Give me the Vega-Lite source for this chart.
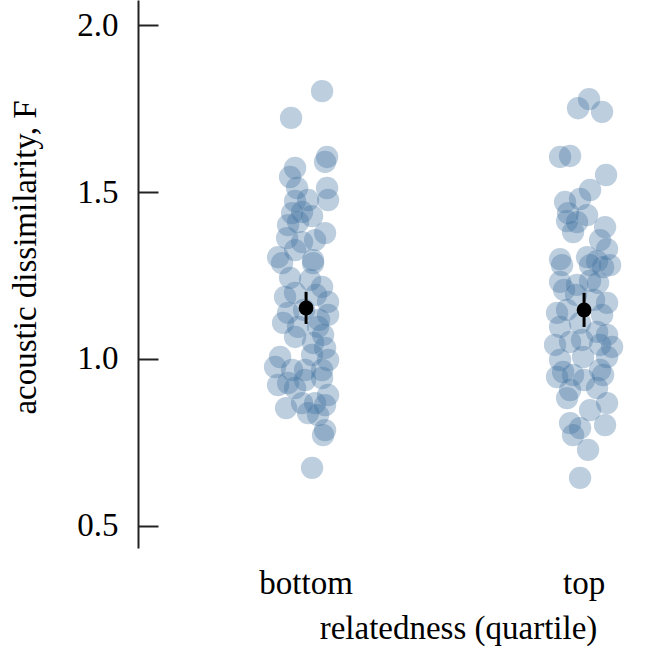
{
  "$schema": "https://vega.github.io/schema/vega-lite/v6.json",
  "width": 505,
  "height": 548,
  "autosize": {"type": "none"},
  "padding": {"left": 138, "right": 14, "top": 0, "bottom": 104},
  "config": {
    "font": "Liberation Serif",
    "view": {"stroke": null},
    "axis": {"grid": false, "labelColor": "#000", "titleColor": "#000", "titleFontWeight": "normal"}
  },
  "datasets": {
    "pts": [
      {"group": "bottom", "jitter": 16, "F": 1.802},
      {"group": "bottom", "jitter": -15, "F": 1.722},
      {"group": "bottom", "jitter": 21, "F": 1.605},
      {"group": "bottom", "jitter": 19, "F": 1.590},
      {"group": "bottom", "jitter": -11, "F": 1.572},
      {"group": "bottom", "jitter": -16, "F": 1.545},
      {"group": "bottom", "jitter": -9, "F": 1.512},
      {"group": "bottom", "jitter": 21, "F": 1.512},
      {"group": "bottom", "jitter": 22, "F": 1.476},
      {"group": "bottom", "jitter": 2, "F": 1.476},
      {"group": "bottom", "jitter": -11, "F": 1.473},
      {"group": "bottom", "jitter": -4, "F": 1.440},
      {"group": "bottom", "jitter": 6, "F": 1.428},
      {"group": "bottom", "jitter": -14, "F": 1.437},
      {"group": "bottom", "jitter": -18, "F": 1.401},
      {"group": "bottom", "jitter": -8, "F": 1.410},
      {"group": "bottom", "jitter": 19, "F": 1.377},
      {"group": "bottom", "jitter": -19, "F": 1.362},
      {"group": "bottom", "jitter": -4, "F": 1.350},
      {"group": "bottom", "jitter": 9, "F": 1.356},
      {"group": "bottom", "jitter": -11, "F": 1.326},
      {"group": "bottom", "jitter": -28, "F": 1.305},
      {"group": "bottom", "jitter": 7, "F": 1.296},
      {"group": "bottom", "jitter": -24, "F": 1.287},
      {"group": "bottom", "jitter": 7, "F": 1.287},
      {"group": "bottom", "jitter": -16, "F": 1.243},
      {"group": "bottom", "jitter": 4, "F": 1.237},
      {"group": "bottom", "jitter": 16, "F": 1.216},
      {"group": "bottom", "jitter": -21, "F": 1.186},
      {"group": "bottom", "jitter": -11, "F": 1.198},
      {"group": "bottom", "jitter": 22, "F": 1.171},
      {"group": "bottom", "jitter": -18, "F": 1.138},
      {"group": "bottom", "jitter": 22, "F": 1.132},
      {"group": "bottom", "jitter": -23, "F": 1.108},
      {"group": "bottom", "jitter": -8, "F": 1.096},
      {"group": "bottom", "jitter": 12, "F": 1.096},
      {"group": "bottom", "jitter": 17, "F": 1.072},
      {"group": "bottom", "jitter": 7, "F": 1.048},
      {"group": "bottom", "jitter": -11, "F": 1.066},
      {"group": "bottom", "jitter": 19, "F": 1.033},
      {"group": "bottom", "jitter": 6, "F": 1.012},
      {"group": "bottom", "jitter": -26, "F": 1.006},
      {"group": "bottom", "jitter": 22, "F": 0.997},
      {"group": "bottom", "jitter": -31, "F": 0.976},
      {"group": "bottom", "jitter": -14, "F": 0.967},
      {"group": "bottom", "jitter": -1, "F": 0.967},
      {"group": "bottom", "jitter": 16, "F": 0.967},
      {"group": "bottom", "jitter": -28, "F": 0.922},
      {"group": "bottom", "jitter": -18, "F": 0.928},
      {"group": "bottom", "jitter": -11, "F": 0.913},
      {"group": "bottom", "jitter": -1, "F": 0.937},
      {"group": "bottom", "jitter": 16, "F": 0.943},
      {"group": "bottom", "jitter": 22, "F": 0.892},
      {"group": "bottom", "jitter": -4, "F": 0.868},
      {"group": "bottom", "jitter": 9, "F": 0.868},
      {"group": "bottom", "jitter": 19, "F": 0.862},
      {"group": "bottom", "jitter": 2, "F": 0.838},
      {"group": "bottom", "jitter": 12, "F": 0.832},
      {"group": "bottom", "jitter": 19, "F": 0.787},
      {"group": "bottom", "jitter": 17, "F": 0.772},
      {"group": "bottom", "jitter": 6, "F": 0.674},
      {"group": "bottom", "jitter": 13, "F": 1.117},
      {"group": "bottom", "jitter": -2, "F": 1.147},
      {"group": "bottom", "jitter": 10, "F": 1.192},
      {"group": "bottom", "jitter": -20, "F": 0.853},
      {"group": "top", "jitter": 5, "F": 1.778},
      {"group": "top", "jitter": -6, "F": 1.751},
      {"group": "top", "jitter": 18, "F": 1.740},
      {"group": "top", "jitter": -24, "F": 1.605},
      {"group": "top", "jitter": -14, "F": 1.608},
      {"group": "top", "jitter": 22, "F": 1.551},
      {"group": "top", "jitter": 6, "F": 1.506},
      {"group": "top", "jitter": -19, "F": 1.470},
      {"group": "top", "jitter": -4, "F": 1.479},
      {"group": "top", "jitter": -16, "F": 1.437},
      {"group": "top", "jitter": 3, "F": 1.431},
      {"group": "top", "jitter": -17, "F": 1.413},
      {"group": "top", "jitter": -7, "F": 1.410},
      {"group": "top", "jitter": 21, "F": 1.395},
      {"group": "top", "jitter": -11, "F": 1.380},
      {"group": "top", "jitter": 16, "F": 1.356},
      {"group": "top", "jitter": 23, "F": 1.329},
      {"group": "top", "jitter": -24, "F": 1.299},
      {"group": "top", "jitter": 3, "F": 1.305},
      {"group": "top", "jitter": 13, "F": 1.293},
      {"group": "top", "jitter": 26, "F": 1.281},
      {"group": "top", "jitter": 6, "F": 1.281},
      {"group": "top", "jitter": -22, "F": 1.281},
      {"group": "top", "jitter": 19, "F": 1.275},
      {"group": "top", "jitter": -24, "F": 1.231},
      {"group": "top", "jitter": 6, "F": 1.234},
      {"group": "top", "jitter": -7, "F": 1.222},
      {"group": "top", "jitter": 14, "F": 1.228},
      {"group": "top", "jitter": 23, "F": 1.168},
      {"group": "top", "jitter": -27, "F": 1.138},
      {"group": "top", "jitter": -17, "F": 1.147},
      {"group": "top", "jitter": 18, "F": 1.132},
      {"group": "top", "jitter": -24, "F": 1.096},
      {"group": "top", "jitter": -4, "F": 1.108},
      {"group": "top", "jitter": 23, "F": 1.072},
      {"group": "top", "jitter": 13, "F": 1.081},
      {"group": "top", "jitter": -29, "F": 1.042},
      {"group": "top", "jitter": -14, "F": 1.051},
      {"group": "top", "jitter": 16, "F": 1.042},
      {"group": "top", "jitter": 28, "F": 1.036},
      {"group": "top", "jitter": -24, "F": 0.997},
      {"group": "top", "jitter": -1, "F": 1.006},
      {"group": "top", "jitter": 23, "F": 1.006},
      {"group": "top", "jitter": -21, "F": 0.961},
      {"group": "top", "jitter": 16, "F": 0.967},
      {"group": "top", "jitter": -27, "F": 0.946},
      {"group": "top", "jitter": -11, "F": 0.952},
      {"group": "top", "jitter": 19, "F": 0.952},
      {"group": "top", "jitter": -14, "F": 0.907},
      {"group": "top", "jitter": 13, "F": 0.913},
      {"group": "top", "jitter": -17, "F": 0.883},
      {"group": "top", "jitter": 23, "F": 0.868},
      {"group": "top", "jitter": 6, "F": 0.847},
      {"group": "top", "jitter": -14, "F": 0.808},
      {"group": "top", "jitter": -4, "F": 0.793},
      {"group": "top", "jitter": 21, "F": 0.802},
      {"group": "top", "jitter": -11, "F": 0.772},
      {"group": "top", "jitter": 4, "F": 0.728},
      {"group": "top", "jitter": -4, "F": 0.644},
      {"group": "top", "jitter": -8, "F": 1.192},
      {"group": "top", "jitter": 10, "F": 1.177},
      {"group": "top", "jitter": -2, "F": 1.057},
      {"group": "top", "jitter": 0, "F": 0.937},
      {"group": "top", "jitter": -20, "F": 1.207}
    ],
    "means": [
      {"group": "bottom", "mean": 1.153, "lo": 1.105, "hi": 1.201},
      {"group": "top", "mean": 1.147, "lo": 1.096, "hi": 1.198}
    ]
  },
  "encoding": {
    "x": {
      "field": "group",
      "type": "nominal",
      "scale": {"domain": ["bottom", "top"], "paddingInner": 0.7, "paddingOuter": 0.2583, "align": 0.88},
      "axis": {
        "title": "relatedness (quartile)",
        "labelAngle": 0,
        "labelFontSize": 33,
        "labelBaseline": "alphabetic",
        "labelPadding": 45,
        "ticks": false,
        "tickSize": 0,
        "domain": false,
        "titleFontSize": 33,
        "titleBaseline": "alphabetic",
        "titleX": 320,
        "titleY": 90,
        "titleAlign": "center"
      }
    }
  },
  "layer": [
    {
      "data": {"name": "pts"},
      "mark": {"type": "circle", "size": 500, "color": "#3f6f9f", "opacity": 0.34},
      "encoding": {
        "xOffset": {"field": "jitter", "type": "quantitative", "scale": {"domain": [-41.7, 41.7]}},
        "y": {
          "field": "F",
          "type": "quantitative",
          "scale": {"domain": [0.434, 2.075], "nice": false, "zero": false},
          "axis": {
            "title": "acoustic dissimilarity, F",
            "values": [0.5, 1.0, 1.5, 2.0],
            "format": ".1f",
            "labelFontSize": 33,
            "tickSize": -20,
            "tickWidth": 2,
            "tickColor": "#222",
            "domainColor": "#222",
            "domainWidth": 2,
            "labelPadding": 40,
            "titleFontSize": 33,
            "titleBaseline": "alphabetic",
            "titleX": -103,
            "titleY": 257,
            "titleAngle": -90,
            "titleAlign": "center"
          }
        }
      }
    },
    {
      "data": {"name": "means"},
      "mark": {"type": "rule", "color": "#000", "strokeWidth": 3},
      "encoding": {"y": {"field": "lo", "type": "quantitative"}, "y2": {"field": "hi"}}
    },
    {
      "data": {"name": "means"},
      "mark": {"type": "circle", "size": 220, "color": "#000", "opacity": 1},
      "encoding": {"y": {"field": "mean", "type": "quantitative"}}
    }
  ]
}
